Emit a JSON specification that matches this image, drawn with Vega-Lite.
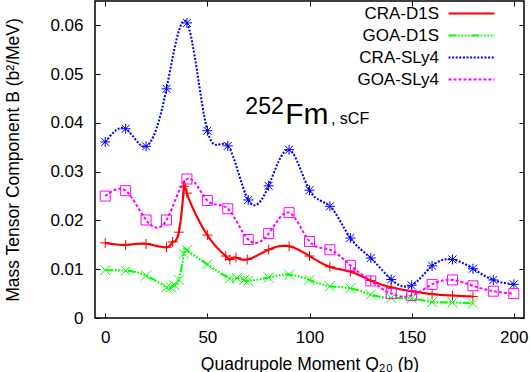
{
  "$schema": "https://vega.github.io/schema/vega-lite/v6.json",
  "width": 429,
  "height": 317,
  "autosize": {"type": "none"},
  "padding": {"left": 95, "top": 1, "right": 6, "bottom": 54},
  "background": "white",
  "config": {
    "font": "Liberation Sans",
    "view": {"stroke": "black", "strokeWidth": 1.5},
    "axis": {
      "grid": false, "domain": false, "tickColor": "black", "tickSize": -5, "tickWidth": 1,
      "labelFontSize": 17, "labelColor": "black", "labelFont": "Liberation Sans",
      "titleFontSize": 17.5, "titleFontWeight": "normal", "titleColor": "black", "titleFont": "Liberation Sans"
    }
  },
  "datasets": {
    "curves": [
      {"series": "CRA-D1S", "q20": 0, "B": 0.0154},
      {"series": "CRA-D1S", "q20": 10, "B": 0.0150},
      {"series": "CRA-D1S", "q20": 20, "B": 0.0152},
      {"series": "CRA-D1S", "q20": 30, "B": 0.0145},
      {"series": "CRA-D1S", "q20": 33, "B": 0.0156},
      {"series": "CRA-D1S", "q20": 36, "B": 0.0176},
      {"series": "CRA-D1S", "q20": 38.5, "B": 0.0270},
      {"series": "CRA-D1S", "q20": 40, "B": 0.0256},
      {"series": "CRA-D1S", "q20": 50, "B": 0.0170},
      {"series": "CRA-D1S", "q20": 59, "B": 0.0127},
      {"series": "CRA-D1S", "q20": 61, "B": 0.0120},
      {"series": "CRA-D1S", "q20": 64, "B": 0.0124},
      {"series": "CRA-D1S", "q20": 69.5, "B": 0.0120},
      {"series": "CRA-D1S", "q20": 80, "B": 0.0140},
      {"series": "CRA-D1S", "q20": 90, "B": 0.0147},
      {"series": "CRA-D1S", "q20": 100, "B": 0.0127},
      {"series": "CRA-D1S", "q20": 110, "B": 0.0105},
      {"series": "CRA-D1S", "q20": 120, "B": 0.0095},
      {"series": "CRA-D1S", "q20": 130, "B": 0.0077},
      {"series": "CRA-D1S", "q20": 140, "B": 0.0063},
      {"series": "CRA-D1S", "q20": 150, "B": 0.0055},
      {"series": "CRA-D1S", "q20": 160, "B": 0.0049},
      {"series": "CRA-D1S", "q20": 170, "B": 0.0046},
      {"series": "CRA-D1S", "q20": 180, "B": 0.0044},
      {"series": "GOA-D1S", "q20": 0, "B": 0.0098},
      {"series": "GOA-D1S", "q20": 10, "B": 0.0097},
      {"series": "GOA-D1S", "q20": 20, "B": 0.0087},
      {"series": "GOA-D1S", "q20": 30, "B": 0.0063},
      {"series": "GOA-D1S", "q20": 32, "B": 0.0063},
      {"series": "GOA-D1S", "q20": 34, "B": 0.0067},
      {"series": "GOA-D1S", "q20": 36, "B": 0.0078},
      {"series": "GOA-D1S", "q20": 38.5, "B": 0.0132},
      {"series": "GOA-D1S", "q20": 40, "B": 0.0139},
      {"series": "GOA-D1S", "q20": 50, "B": 0.0110},
      {"series": "GOA-D1S", "q20": 61, "B": 0.0081},
      {"series": "GOA-D1S", "q20": 64.5, "B": 0.0082},
      {"series": "GOA-D1S", "q20": 68, "B": 0.0078},
      {"series": "GOA-D1S", "q20": 70, "B": 0.0076},
      {"series": "GOA-D1S", "q20": 80, "B": 0.0083},
      {"series": "GOA-D1S", "q20": 90, "B": 0.0089},
      {"series": "GOA-D1S", "q20": 100, "B": 0.0078},
      {"series": "GOA-D1S", "q20": 110, "B": 0.0065},
      {"series": "GOA-D1S", "q20": 120, "B": 0.0061},
      {"series": "GOA-D1S", "q20": 130, "B": 0.0048},
      {"series": "GOA-D1S", "q20": 140, "B": 0.0041},
      {"series": "GOA-D1S", "q20": 150, "B": 0.0040},
      {"series": "GOA-D1S", "q20": 160, "B": 0.0033},
      {"series": "GOA-D1S", "q20": 170, "B": 0.0032},
      {"series": "GOA-D1S", "q20": 180, "B": 0.0030},
      {"series": "CRA-SLy4", "q20": 0, "B": 0.0361},
      {"series": "CRA-SLy4", "q20": 10, "B": 0.0388},
      {"series": "CRA-SLy4", "q20": 20, "B": 0.0352},
      {"series": "CRA-SLy4", "q20": 30, "B": 0.0470},
      {"series": "CRA-SLy4", "q20": 40, "B": 0.0605},
      {"series": "CRA-SLy4", "q20": 50, "B": 0.0384},
      {"series": "CRA-SLy4", "q20": 60, "B": 0.0353},
      {"series": "CRA-SLy4", "q20": 70, "B": 0.0242},
      {"series": "CRA-SLy4", "q20": 80, "B": 0.0271},
      {"series": "CRA-SLy4", "q20": 90, "B": 0.0345},
      {"series": "CRA-SLy4", "q20": 100, "B": 0.0262},
      {"series": "CRA-SLy4", "q20": 110, "B": 0.0229},
      {"series": "CRA-SLy4", "q20": 120, "B": 0.0164},
      {"series": "CRA-SLy4", "q20": 130, "B": 0.0123},
      {"series": "CRA-SLy4", "q20": 140, "B": 0.0079},
      {"series": "CRA-SLy4", "q20": 150, "B": 0.0067},
      {"series": "CRA-SLy4", "q20": 160, "B": 0.0107},
      {"series": "CRA-SLy4", "q20": 170, "B": 0.0120},
      {"series": "CRA-SLy4", "q20": 180, "B": 0.0101},
      {"series": "CRA-SLy4", "q20": 190, "B": 0.0078},
      {"series": "CRA-SLy4", "q20": 200, "B": 0.0069},
      {"series": "GOA-SLy4", "q20": 0, "B": 0.0250},
      {"series": "GOA-SLy4", "q20": 10, "B": 0.0261},
      {"series": "GOA-SLy4", "q20": 20, "B": 0.0201},
      {"series": "GOA-SLy4", "q20": 30, "B": 0.0201},
      {"series": "GOA-SLy4", "q20": 40, "B": 0.0285},
      {"series": "GOA-SLy4", "q20": 50, "B": 0.0241},
      {"series": "GOA-SLy4", "q20": 60, "B": 0.0224},
      {"series": "GOA-SLy4", "q20": 70, "B": 0.0161},
      {"series": "GOA-SLy4", "q20": 80, "B": 0.0173},
      {"series": "GOA-SLy4", "q20": 90, "B": 0.0216},
      {"series": "GOA-SLy4", "q20": 100, "B": 0.0157},
      {"series": "GOA-SLy4", "q20": 110, "B": 0.0140},
      {"series": "GOA-SLy4", "q20": 120, "B": 0.0108},
      {"series": "GOA-SLy4", "q20": 130, "B": 0.0076},
      {"series": "GOA-SLy4", "q20": 140, "B": 0.0050},
      {"series": "GOA-SLy4", "q20": 150, "B": 0.0046},
      {"series": "GOA-SLy4", "q20": 160, "B": 0.0069},
      {"series": "GOA-SLy4", "q20": 170, "B": 0.0078},
      {"series": "GOA-SLy4", "q20": 180, "B": 0.0066},
      {"series": "GOA-SLy4", "q20": 190, "B": 0.0055},
      {"series": "GOA-SLy4", "q20": 200, "B": 0.0050}
    ]
  },
  "layer": [
    {
      "data": {"name": "curves"},
      "mark": {"type": "line", "interpolate": "natural"},
      "encoding": {
        "x": {
          "field": "q20", "type": "quantitative",
          "scale": {"domain": [-5, 205], "nice": false, "zero": false},
          "axis": {"orient": "bottom", "values": [0, 50, 100, 150, 200], "title": "Quadrupole Moment Q₂₀ (b)", "labelPadding": 16, "titlePadding": 10}
        },
        "y": {
          "field": "B", "type": "quantitative",
          "scale": {"domain": [0, 0.065], "nice": false},
          "axis": {"orient": "left", "values": [0, 0.01, 0.02, 0.03, 0.04, 0.05, 0.06], "labelExpr": "datum.value === 0 ? '0' : format(datum.value, '.2f')", "title": "Mass Tensor Component B (b²/MeV)", "labelPadding": 17, "titlePadding": 27}
        },
        "color": {
          "field": "series", "type": "nominal",
          "scale": {"domain": ["CRA-D1S", "GOA-D1S", "CRA-SLy4", "GOA-SLy4"], "range": ["#ff0000", "#00ff00", "#0000ff", "#ff00ff"]},
          "legend": {
            "orient": "none", "legendX": 339, "legendY": 4, "title": null,
            "symbolType": "M 1.2 0 H 10.4", "symbolSize": 100, "symbolStrokeWidth": 2,
            "labelAlign": "right", "labelOffset": -12, "labelFontSize": 17, "labelFont": "Liberation Sans", "labelColor": "black",
            "rowPadding": 4, "padding": 0, "labelLimit": 300
          }
        },
        "strokeDash": {
          "field": "series", "type": "nominal",
          "scale": {"domain": ["CRA-D1S", "GOA-D1S", "CRA-SLy4", "GOA-SLy4"], "range": [[1, 0], [8, 1.6, 1.7, 1.6, 1.7, 1.6, 1.7, 1.6, 1.7, 1.4], [2, 1.6], [3, 2]]}
        },
        "strokeWidth": {
          "field": "series", "type": "nominal",
          "scale": {"domain": ["CRA-D1S", "GOA-D1S", "CRA-SLy4", "GOA-SLy4"], "range": [2.2, 2, 2, 1.5]},
          "legend": null
        }
      }
    },
    {
      "data": {"name": "curves"},
      "transform": [{"filter": "datum.series === 'CRA-D1S'"}],
      "mark": {"type": "point", "filled": false, "size": 100, "strokeWidth": 1, "opacity": 1, "color": "#ff0000", "shape": "M-1,0H1M0,-1V1"},
      "encoding": {
        "x": {"field": "q20", "type": "quantitative", "axis": {"orient": "top", "values": [0, 50, 100, 150, 200], "labels": false, "title": null}},
        "y": {"field": "B", "type": "quantitative", "axis": {"orient": "right", "values": [0, 0.01, 0.02, 0.03, 0.04, 0.05, 0.06], "labels": false, "title": null}}
      }
    },
    {
      "data": {"name": "curves"},
      "transform": [{"filter": "datum.series === 'GOA-D1S'"}],
      "mark": {"type": "point", "filled": false, "size": 100, "strokeWidth": 1, "opacity": 1, "color": "#00ff00", "shape": "M-1,-1L1,1M-1,1L1,-1"},
      "encoding": {
        "x": {"field": "q20", "type": "quantitative", "axis": null},
        "y": {"field": "B", "type": "quantitative", "axis": null}
      }
    },
    {
      "data": {"name": "curves"},
      "transform": [{"filter": "datum.series === 'CRA-SLy4'"}],
      "mark": {"type": "point", "filled": false, "size": 100, "strokeWidth": 1, "opacity": 1, "color": "#0000ff", "shape": "M-1,0H1M0,-1V1M-0.8,-0.8L0.8,0.8M-0.8,0.8L0.8,-0.8"},
      "encoding": {
        "x": {"field": "q20", "type": "quantitative", "axis": null},
        "y": {"field": "B", "type": "quantitative", "axis": null}
      }
    },
    {
      "data": {"name": "curves"},
      "transform": [{"filter": "datum.series === 'GOA-SLy4'"}],
      "mark": {"type": "point", "filled": false, "size": 100, "strokeWidth": 1, "opacity": 1, "color": "#ff00ff", "shape": "square"},
      "encoding": {
        "x": {"field": "q20", "type": "quantitative", "axis": null},
        "y": {"field": "B", "type": "quantitative", "axis": null}
      }
    },
    {
      "data": {"values": [{"label": "252", "q20": 68.6, "B": 0.0418}]},
      "mark": {"type": "text", "fontSize": 23, "font": "Liberation Sans", "align": "left", "baseline": "alphabetic", "color": "black"},
      "encoding": {
        "text": {"field": "label"},
        "x": {"field": "q20", "type": "quantitative", "axis": null},
        "y": {"field": "B", "type": "quantitative", "axis": null}
      }
    },
    {
      "data": {"values": [{"label": "Fm", "q20": 88.1, "B": 0.0398}]},
      "mark": {"type": "text", "fontSize": 30, "font": "Liberation Sans", "align": "left", "baseline": "alphabetic", "color": "black"},
      "encoding": {
        "text": {"field": "label"},
        "x": {"field": "q20", "type": "quantitative", "axis": null},
        "y": {"field": "B", "type": "quantitative", "axis": null}
      }
    },
    {
      "data": {"values": [{"label": ", sCF", "q20": 110.5, "B": 0.0398}]},
      "mark": {"type": "text", "fontSize": 16, "font": "Liberation Sans", "align": "left", "baseline": "alphabetic", "color": "black"},
      "encoding": {
        "text": {"field": "label"},
        "x": {"field": "q20", "type": "quantitative", "axis": null},
        "y": {"field": "B", "type": "quantitative", "axis": null}
      }
    }
  ],
  "resolve": {"axis": {"x": "independent", "y": "independent"}}
}
